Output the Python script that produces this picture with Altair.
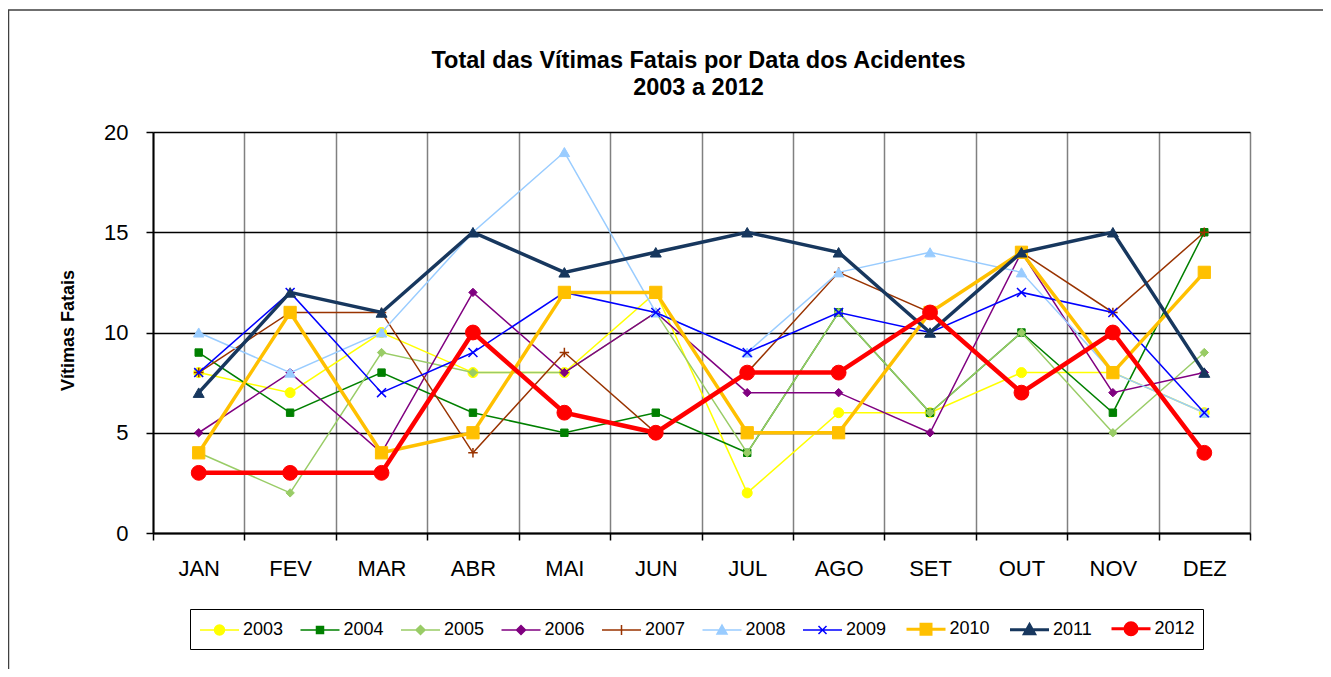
import altair as alt
import pandas as pd

months = ["JAN", "FEV", "MAR", "ABR", "MAI", "JUN", "JUL", "AGO", "SET", "OUT", "NOV", "DEZ"]
years = ["2003", "2004", "2005", "2006", "2007", "2008", "2009", "2010", "2011", "2012"]

v2003 = [8, 7, 10, 8, 8, 12, 2, 6, 6, 8, 8, 6]
v2004 = [9, 6, 8, 6, 5, 6, 4, 11, 6, 10, 6, 15]
v2005 = [4, 2, 9, 8, 8, 11, 4, 11, 6, 10, 5, 9]
v2006 = [5, 8, 4, 12, 8, 11, 7, 7, 5, 14, 7, 8]
v2007 = [8, 11, 11, 4, 9, 5, 8, 13, 11, 14, 11, 15]
v2008 = [10, 8, 10, 15, 19, 11, 9, 13, 14, 13, 8, 6]
v2009 = [8, 12, 7, 9, 12, 11, 9, 11, 10, 12, 11, 6]
v2010 = [4, 11, 4, 5, 12, 12, 5, 5, 11, 14, 8, 13]
v2011 = [7, 12, 11, 15, 13, 14, 15, 14, 10, 14, 15, 8]
v2012 = [3, 3, 3, 10, 6, 5, 8, 8, 11, 7, 10, 4]

series = [v2003, v2004, v2005, v2006, v2007, v2008, v2009, v2010, v2011, v2012]

# styles
colors = ["#FFFF00", "#008000", "#99CC66", "#800080", "#993300",
          "#99CCFF", "#0000FF", "#FFC000", "#17375E", "#FF0000"]
line_widths = [1.5, 1.5, 1.5, 1.5, 1.5, 1.5, 1.5, 3.5, 3.5, 4.5]
PLUS = "M-1,0H1M0,-1V1"
XSHAPE = "M-1,-1L1,1M-1,1L1,-1"
marker_shapes = ["circle", "square", "diamond", "diamond", PLUS,
                 "triangle-up", XSHAPE, "square", "triangle-up", "circle"]
marker_sizes = [100, 55, 70, 70, 90, 110, 80, 150, 120, 220]
marker_filled = [True, True, True, True, False, True, False, True, True, True]

# legend symbols: line + marker (custom paths in unit coords)
LINE = "M-1.95,0H1.95"
def circ(r):
    return f"M{r},0A{r},{r} 0 1 1 {-r},0A{r},{r} 0 1 1 {r},0Z"
def sq(h):
    return f"M{-h},{-h}H{h}V{h}H{-h}Z"
def dia(h):
    return f"M0,{-h}L{h},0L0,{h}L{-h},0Z"
def tri(h):
    return f"M0,{-h}L{h},{h*0.8}L{-h},{h*0.8}Z"
legend_paths = [
    LINE + circ(0.5),
    LINE + sq(0.35),
    LINE + dia(0.45),
    LINE + dia(0.45),
    LINE + "M0,-0.5V0.5",
    LINE + tri(0.5),
    LINE + "M-0.4,-0.4L0.4,0.4M-0.4,0.4L0.4,-0.4",
    LINE + sq(0.5),
    LINE + tri(0.5),
    LINE + circ(0.6),
]
legend_widths = [1.5, 1.5, 1.5, 1.5, 1.5, 1.5, 1.5, 3, 3, 3]

rows = []
for y, vals in zip(years, series):
    for m, v in zip(months, vals):
        rows.append({"ano": y, "mes": m, "vitimas": v})
df = pd.DataFrame(rows)

FONT = "Liberation Sans"

xenc = alt.X("mes:N", sort=months, bandPosition=0.5,
             scale=alt.Scale(type="band", domain=months, paddingInner=0, paddingOuter=0),
             axis=alt.Axis(title=None, labelAngle=0, labelFontSize=22, labelFont=FONT,
                           labelColor="black", labelPadding=18, tickBand="extent",
                           tickSize=7, tickColor="black", tickWidth=1.5,
                           domainColor="black", domainWidth=2,
                           grid=True, gridColor="#808080", gridWidth=1.5))
yenc = alt.Y("vitimas:Q", scale=alt.Scale(domain=[0, 20], nice=False),
             axis=alt.Axis(values=[0, 5, 10, 15, 20], title="Vítimas Fatais",
                           titleFont=FONT, titleFontSize=18, titleFontWeight="bold",
                           titleColor="black", titleX=-85, titleY=198, titleAngle=-90,
                           titleBaseline="middle", titleAlign="center",
                           labelFontSize=22, labelFont=FONT, labelColor="black",
                           labelPadding=18, tickSize=7, tickColor="black", tickWidth=1.5,
                           domainColor="black", domainWidth=2,
                           grid=True, gridColor="black", gridWidth=1.5))

base = alt.Chart(df)
layers = []

# outer frame
frame = alt.Chart(pd.DataFrame({"f": [0]})).mark_rect(
    fill=None, stroke="#404040", strokeWidth=1.5
).encode(x=alt.value(-144.5), x2=alt.value(1400), y=alt.value(-122), y2=alt.value(700))
layers.append(frame)

for i, y in enumerate(years):
    sub = base.transform_filter(alt.datum.ano == y)
    layers.append(sub.mark_line(color=colors[i], strokeWidth=line_widths[i]).encode(x=xenc, y=yenc))
    if marker_filled[i]:
        pm = sub.mark_point(shape=marker_shapes[i], size=marker_sizes[i], filled=True,
                            fill=colors[i], stroke=colors[i], strokeWidth=1, opacity=1)
    else:
        pm = sub.mark_point(shape=marker_shapes[i], size=marker_sizes[i], filled=False,
                            fill=None, stroke=colors[i], strokeWidth=1.5, opacity=1)
    layers.append(pm.encode(x=xenc, y=yenc))

legend_layer = base.transform_filter("false").mark_point(filled=True, opacity=1).encode(
    x=xenc, y=yenc,
    fill=alt.Fill("ano:N", scale=alt.Scale(domain=years, range=colors),
                  legend=alt.Legend(title=None)),
    stroke=alt.Stroke("ano:N", scale=alt.Scale(domain=years, range=colors),
                      legend=alt.Legend(title=None)),
    shape=alt.Shape("ano:N", scale=alt.Scale(domain=years, range=legend_paths),
                    legend=alt.Legend(title=None)),
    strokeWidth=alt.StrokeWidth("ano:N", scale=alt.Scale(type="ordinal", domain=years, range=legend_widths),
                                legend=alt.Legend(title=None)),
)
layers.append(legend_layer)

chart = alt.layer(*layers).properties(
    width=1097, height=401,
    padding={"left": 145, "top": 124, "right": 73, "bottom": 136},
    autosize=alt.AutoSizeParams(type="none"),
    title=alt.Title(["Total das Vítimas  Fatais por Data dos Acidentes", "2003 a 2012"],
                    font=FONT, fontSize=23.5, fontWeight="bold", color="black",
                    anchor="middle", offset=-90, lineHeight=27, dx=-3),
).configure_view(fill="#F0F0F0", stroke=None).configure(background="white").configure_legend(
    orient="none", legendX=37, legendY=477, direction="horizontal", columns=10,
    strokeColor="black", fillColor="white", padding=8, cornerRadius=0,
    symbolSize=400, symbolOffset=10, labelOffset=12, columnPadding=13.5,
    labelFontSize=18, labelFont=FONT, labelColor="black",
)

chart.save("out.html", embed_options={"renderer": "svg", "actions": False})
